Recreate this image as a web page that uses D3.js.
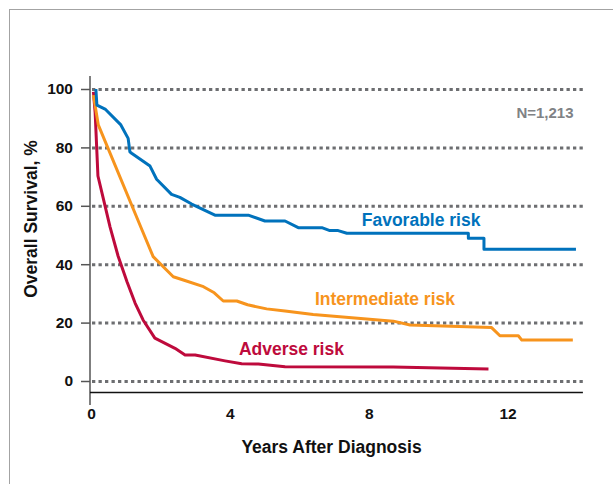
<!DOCTYPE html>
<html>
<head>
<meta charset="utf-8">
<script src="https://cdn.jsdelivr.net/npm/d3@7"></script>
<style>
  body { margin: 0; background: #fff; }
  text { font-family: "Liberation Sans", Arial, sans-serif; font-weight: bold; }
</style>
</head>
<body>
<div id="chart"></div>
<script>
// overall survival (%) by risk group, years after diagnosis
var favorableYears = [0.14, 0.17, 0.42, 0.86, 1.07, 1.12, 1.17, 1.70, 1.89, 2.32, 2.56, 2.90, 3.57, 4.53, 5.01, 5.59, 5.97, 6.65, 6.88, 7.12, 7.37, 10.87, 10.87, 11.32, 11.32, 13.97];
var favorableSurv = [100, 94.5, 93.0, 87.7, 83.1, 78.5, 78.0, 73.6, 69.1, 63.9, 62.9, 60.6, 56.8, 56.8, 54.8, 54.8, 52.5, 52.5, 51.5, 51.5, 50.6, 50.6, 48.9, 48.9, 45.1, 45.1];

var intermediateYears = [0.07, 0.21, 1.47, 1.79, 2.37, 2.66, 3.24, 3.55, 3.81, 4.20, 4.51, 5.06, 5.59, 6.40, 8.71, 9.19, 11.54, 11.78, 12.31, 12.41, 13.88];
var intermediateSurv = [97.9, 87.7, 51.7, 42.6, 35.7, 34.6, 32.3, 30.2, 27.4, 27.4, 26.1, 24.7, 24.0, 22.8, 20.5, 19.2, 18.3, 15.5, 15.5, 14.0, 14.0];

var adverseYears = [0.07, 0.12, 0.20, 0.35, 0.55, 0.78, 1.04, 1.27, 1.50, 1.84, 2.42, 2.71, 3.00, 3.86, 4.34, 4.82, 5.59, 8.70, 11.45];
var adverseSurv = [99, 91.8, 70.2, 62.7, 52.7, 42.8, 33.9, 26.7, 20.9, 14.7, 11.2, 8.9, 8.9, 6.9, 5.9, 5.8, 4.9, 4.8, 4.1];

var yTicks = [0, 20, 40, 60, 80, 100];
var xTicks = [0, 4, 8, 12];

var groupNames = ["Adverse risk", "Intermediate risk", "Favorable risk"];
var groupColors = ["#be0a3c", "#f7941d", "#0072bc"];
// label anchors, in data units (years, %)
var labelYears = [4.26, 6.45, 7.8];
var labelSurv = [8.9, 26.0, 53.1];

var svgWidth = 613;
var svgHeight = 484;

var svg = d3.select("#chart")
    .append("svg")
    .attr("width", svgWidth)
    .attr("height", svgHeight);

// outer frame (runs off the right and bottom edges)
svg.append("rect")
    .attr("x", 9.5)
    .attr("y", 9.5)
    .attr("width", 700)
    .attr("height", 600)
    .attr("fill", "none")
    .attr("stroke", "#a3a3a3")
    .attr("stroke-width", 1);

var xScale = d3.scaleLinear()
    .domain([0, 14])
    .range([91, 577]);

var yScale = d3.scaleLinear()
    .domain([0, 100])
    .range([381, 89]);

// dotted gridlines
svg.append("g")
    .selectAll("line")
    .data(yTicks)
    .enter()
    .append("line")
    .attr("x1", 92)
    .attr("x2", xScale(14.2))
    .attr("y1", d => yScale(d) + 0.5)
    .attr("y2", d => yScale(d) + 0.5)
    .attr("stroke", "#6d6e71")
    .attr("stroke-width", 3)
    .attr("stroke-dasharray", "3.3,3.2");

// curves
var series = [
    d3.zip(adverseYears, adverseSurv),
    d3.zip(intermediateYears, intermediateSurv),
    d3.zip(favorableYears, favorableSurv)
];

var line = d3.line()
    .x(d => xScale(d[0]))
    .y(d => yScale(d[1]));

svg.append("g")
    .selectAll("path")
    .data(series)
    .enter()
    .append("path")
    .attr("d", line)
    .attr("fill", "none")
    .attr("stroke", (d, i) => groupColors[i])
    .attr("stroke-width", 3)
    .attr("stroke-linejoin", "round");

// y axis
var yAxis = d3.axisLeft(yScale)
    .tickValues(yTicks)
    .tickSize(9)
    .tickPadding(8);

var yAxisGroup = svg.append("g")
    .attr("transform", "translate(90,0)")
    .call(yAxis);

yAxisGroup.select(".domain").remove();
yAxisGroup.selectAll(".tick line")
    .attr("stroke", "#555")
    .attr("stroke-width", 1.5);
yAxisGroup.selectAll(".tick text")
    .attr("fill", "#111")
    .style("font-size", "15.5px");

svg.append("line")
    .attr("x1", 90).attr("x2", 90)
    .attr("y1", 76).attr("y2", 405)
    .attr("stroke", "#555")
    .attr("stroke-width", 1.5);

// x axis
var xAxis = d3.axisBottom(xScale)
    .tickValues(xTicks)
    .tickSize(0)
    .tickPadding(15);

var xAxisGroup = svg.append("g")
    .attr("transform", "translate(0,392.5)")
    .call(xAxis);

xAxisGroup.select(".domain").remove();
xAxisGroup.selectAll(".tick text")
    .attr("fill", "#111")
    .style("font-size", "15.5px");

svg.append("line")
    .attr("x1", 90).attr("x2", xScale(14.17))
    .attr("y1", 392.5).attr("y2", 392.5)
    .attr("stroke", "#111")
    .attr("stroke-width", 1.3);

// series labels
svg.append("g")
    .selectAll("text")
    .data(groupNames)
    .enter()
    .append("text")
    .attr("x", (d, i) => xScale(labelYears[i]))
    .attr("y", (d, i) => yScale(labelSurv[i]))
    .attr("fill", (d, i) => groupColors[i])
    .style("font-size", "17.5px")
    .text(d => d);

svg.append("text")
    .attr("x", xScale(13.9))
    .attr("y", yScale(89.9))
    .attr("text-anchor", "end")
    .attr("fill", "#808285")
    .style("font-size", "15px")
    .text("N=1,213");

// axis titles
svg.append("text")
    .attr("transform", "translate(331.5,452.5)")
    .attr("text-anchor", "middle")
    .attr("fill", "#111")
    .style("font-size", "17.5px")
    .text("Years After Diagnosis");

svg.append("text")
    .attr("transform", "translate(36.5,219) rotate(-90)")
    .attr("text-anchor", "middle")
    .attr("fill", "#111")
    .style("font-size", "17.5px")
    .text("Overall Survival, %");
</script>
</body>
</html>
